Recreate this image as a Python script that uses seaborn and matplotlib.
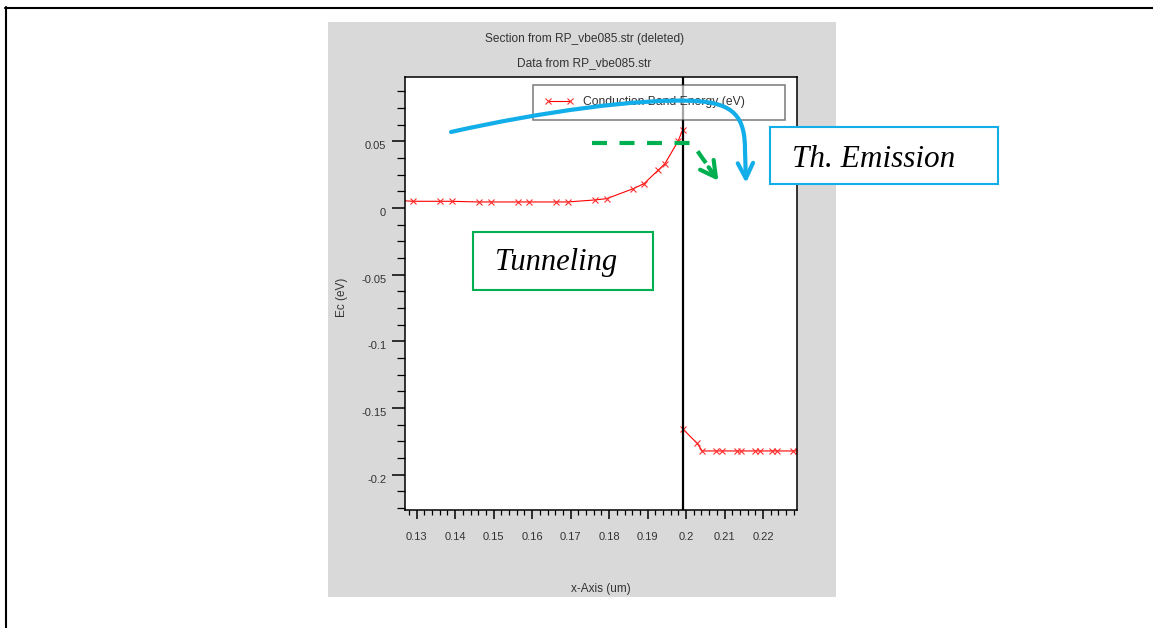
import numpy as np
import pandas as pd
import matplotlib
matplotlib.use("Agg")
import matplotlib.pyplot as plt
import seaborn as sns
from matplotlib.transforms import Affine2D, ScaledTranslation
from matplotlib.patches import Rectangle, FancyArrowPatch
from matplotlib.path import Path
from matplotlib.lines import Line2D
from matplotlib.ticker import MultipleLocator, FuncFormatter

# Conduction band energy along the cut, left of the interface
x_left = [0.1262, 0.1290, 0.1361, 0.1391, 0.1461, 0.1492, 0.1562, 0.1592,
          0.1661, 0.1692, 0.1763, 0.1794, 0.1863, 0.1891, 0.1928, 0.1945,
          0.1979, 0.1991]
ec_left = [0.0055, 0.0050, 0.0050, 0.0050, 0.0045, 0.0045, 0.0045, 0.0045,
           0.0045, 0.0045, 0.0060, 0.0070, 0.0145, 0.0183, 0.0285, 0.0332,
           0.0500, 0.0585]

# ... and right of the interface
x_right = [0.1993, 0.2029, 0.2042, 0.2079, 0.2094, 0.2133, 0.2142, 0.2179,
           0.2192, 0.2222, 0.2235, 0.2277, 0.2292]
ec_right = [-0.1661, -0.1766, -0.1822, -0.1822, -0.1822, -0.1822, -0.1822,
            -0.1822, -0.1822, -0.1822, -0.1822, -0.1822, -0.1822]

interface_x = 0.1992
series_label = "Conduction Band Energy (eV)"
title_1 = "Section from RP_vbe085.str (deleted)"
title_2 = "Data from RP_vbe085.str"
x_label = "x-Axis (um)"
y_label = "Ec (eV)"
x_ticks = [0.13, 0.14, 0.15, 0.16, 0.17, 0.18, 0.19, 0.20, 0.21, 0.22]
y_ticks = [0.05, 0.0, -0.05, -0.10, -0.15, -0.20]
note_tunnel = "Tunneling"
note_emission = "Th. Emission"

sns.set_style("ticks")
plt.rcParams["font.family"] = ["Liberation Sans", "DejaVu Sans"]

W, H = 1153, 628
fig = plt.figure(figsize=(W / 100, H / 100), dpi=100, facecolor="white")
# pixel coordinates, origin at top-left
PX = Affine2D().scale(1 / W, -1 / H).translate(0, 1) + fig.transFigure

# grey plotting panel
fig.add_artist(Rectangle((328, 22), 508, 575, transform=PX,
                         facecolor="#d9d9d9", edgecolor="none", zorder=0))

ax = fig.add_axes([405 / W, 1 - 509.5 / H, 392.3 / W, 432.5 / H])
ax.set_facecolor("white")

left_df = pd.DataFrame({"x": x_left, "ec": ec_left})
right_df = pd.DataFrame({"x": x_right, "ec": ec_right})
line_kw = dict(color="#ff0000", linewidth=0.8, marker="x", markersize=4.5,
               markeredgewidth=0.8, markeredgecolor="#ff3030")
sns.lineplot(data=left_df, x="x", y="ec", ax=ax, label=series_label, **line_kw)
sns.lineplot(data=right_df, x="x", y="ec", ax=ax, legend=False, **line_kw)

ax.axvline(interface_x, color="black", linewidth=1.6, zorder=3)

ax.set_xlim(0.12696, 0.2289)
ax.set_ylim(-0.2261, 0.0982)
ax.set_xticks(x_ticks)
ax.set_yticks(y_ticks)
ax.xaxis.set_minor_locator(MultipleLocator(0.002))
ax.yaxis.set_minor_locator(MultipleLocator(0.0125))
fmt = FuncFormatter(lambda v, p: ("%g" % round(v, 4)).replace("\u2212", "-"))
ax.xaxis.set_major_formatter(fmt)
ax.yaxis.set_major_formatter(fmt)

for s in ax.spines.values():
    s.set_color("black")
    s.set_linewidth(1.1)
ax.tick_params(axis="y", which="major", direction="out", length=9.5, width=1.1,
               color="black", labelsize=8, labelcolor="#333333", pad=4,
               left=True, right=False)
ax.tick_params(axis="y", which="minor", direction="out", length=5.5, width=0.9,
               color="black", left=True, right=False)
ax.tick_params(axis="x", which="major", direction="out", length=6.5, width=1.1,
               color="black", labelsize=8, labelcolor="#333333", pad=10,
               bottom=True, top=False)
ax.tick_params(axis="x", which="minor", direction="out", length=3.8, width=0.9,
               color="black", bottom=True, top=False)
for lab in ax.get_yticklabels():
    lab.set_transform(lab.get_transform() + ScaledTranslation(0, -3 / 72, fig.dpi_scale_trans))

ax.set_xlabel(x_label, fontsize=8.5, color="#333333")
ax.set_ylabel(y_label, fontsize=8.5, color="#333333")
ax.xaxis.set_label_coords(0.5, -0.184)
ax.xaxis.label.set_va("center")
ax.yaxis.set_label_coords(-0.16, 0.49)
ax.yaxis.label.set_va("center")

leg = ax.legend(loc="upper left", bbox_to_anchor=(0.3263, 0.5, 0.6431, 0.4815),
                mode="expand", borderaxespad=0, fontsize=8.7, numpoints=2,
                handlelength=2.4, handletextpad=0.8, borderpad=0.95,
                fancybox=False, framealpha=0.65, edgecolor="#333333",
                labelcolor="#333333")
leg.get_frame().set_linewidth(1.1)
leg.set_zorder(5)

fig.text(584.7 / W, 1 - 39 / H, title_1, ha="center", va="center",
         fontsize=8.6, color="#333333")
fig.text(583.7 / W, 1 - 62.7 / H, title_2, ha="center", va="center",
         fontsize=8.6, color="#333333")

# page frame (left and top rules)
fig.add_artist(Line2D([6, 6], [7, 628], transform=PX, color="black", lw=1.5))
fig.add_artist(Line2D([5, 1153], [7.5, 7.5], transform=PX, color="black", lw=1.5))

blue = "#12aeea"
green = "#00b050"

# thermionic emission path over the barrier
verts = [(451, 132), (540, 112), (640, 98), (695, 101),
         (735, 103), (745, 118), (745, 150), (746, 183)]
codes = [Path.MOVETO, Path.CURVE4, Path.CURVE4, Path.CURVE4,
         Path.CURVE4, Path.CURVE4, Path.CURVE4, Path.LINETO]
fig.add_artist(FancyArrowPatch(path=Path(verts, codes), transform=PX,
                               arrowstyle="->,head_length=1.1,head_width=0.55",
                               mutation_scale=10, color=blue, lw=3.0,
                               zorder=10))

# tunnelling path through the barrier
fig.add_artist(Line2D([592, 692, 703, 706], [143, 143, 159, 163], transform=PX,
                      color=green, lw=3.0, dashes=(3.6, 3.0), zorder=10))
fig.add_artist(FancyArrowPatch((707, 165), (720, 183), transform=PX,
                               arrowstyle="->,head_length=1.1,head_width=0.6",
                               mutation_scale=10, color=green, lw=3.0,
                               zorder=10))

# labelled boxes
fig.add_artist(Rectangle((770, 127.3), 227.7, 57, transform=PX,
                         facecolor="white", edgecolor=blue, lw=1.5, zorder=11))
fig.text(792 / W, 1 - 167 / H, note_emission, ha="left", va="baseline",
         fontsize=22.5, family="Liberation Serif", style="italic", color="black",
         zorder=12)
fig.add_artist(Rectangle((472.7, 232.3), 180.6, 57.7, transform=PX,
                         facecolor="white", edgecolor=green, lw=1.5, zorder=11))
fig.text(495 / W, 1 - 270 / H, note_tunnel, ha="left", va="baseline",
         fontsize=22, family="Liberation Serif", style="italic", color="black",
         zorder=12)

fig.savefig("out.png", dpi=100, facecolor="white")
